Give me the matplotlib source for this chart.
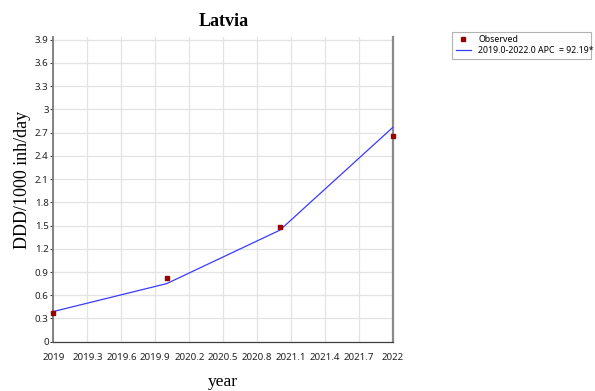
import matplotlib
matplotlib.use("Agg")
import matplotlib.pyplot as plt
import numpy as np

# Observed consumption and joinpoint fit
years = [2019, 2020, 2021, 2022]
observed = [0.37, 0.82, 1.48, 2.65]
fitted = [0.39, 0.75, 1.44, 2.77]
x_ticks = [2019, 2019.3, 2019.6, 2019.9, 2020.2, 2020.5, 2020.8, 2021.1, 2021.4, 2021.7, 2022]
y_ticks = [0, 0.3, 0.6, 0.9, 1.2, 1.5, 1.8, 2.1, 2.4, 2.7, 3, 3.3, 3.6, 3.9]
title = "Latvia"
legend_obs = "Observed"
legend_fit = "2019.0-2022.0 APC  = 92.19*"

fig = plt.figure(figsize=(5.95, 3.91), dpi=100)
ax = fig.add_axes([0.0899, 0.1261, 0.5706, 0.7793])

ax.set_xlim(2019, 2022)
ax.set_ylim(0, 3.935)
ax.set_xticks(x_ticks)
ax.set_xticklabels([f"{v:g}" for v in x_ticks])
ax.set_yticks(y_ticks)
ax.set_yticklabels([f"{v:g}" for v in y_ticks])

ax.grid(True, color="#e3e3e3", lw=0.9)
ax.set_axisbelow(True)

line, = ax.plot(years, fitted, color="#3a3aff", lw=0.9, label=legend_fit, zorder=3)
pts, = ax.plot(years, observed, ls="none", marker="s", ms=3.4, color="#990000",
               label=legend_obs, zorder=4, clip_on=False)

ax.spines["top"].set_visible(False)
ax.spines["left"].set_color("#7a7a7a")
ax.spines["left"].set_linewidth(1.3)
ax.spines["right"].set_color("#8a8a8a")
ax.spines["right"].set_linewidth(1.6)
ax.spines["bottom"].set_color("#404040")
ax.spines["bottom"].set_linewidth(0.9)

small = 7
ax.tick_params(axis="y", length=2.5, width=0.8, color="#404040", pad=1,
               labelsize=small, labelcolor="#222222")
ax.tick_params(axis="x", length=0, pad=8, labelsize=small, labelcolor="#222222")
for lab in ax.get_xticklabels() + ax.get_yticklabels():
    lab.set_family("Noto Sans")

ax.set_title(title, family="Liberation Serif", fontweight="bold", fontsize=13, pad=8)
ax.set_ylabel("DDD/1000 inh/day", family="Liberation Serif", fontsize=13)
ax.yaxis.set_label_coords(-0.066, 0.531)
ax.set_xlabel("year", family="Liberation Serif", fontsize=12.5, labelpad=9)

leg = fig.legend(handles=[pts, line], labels=[legend_obs, legend_fit],
                 loc="upper left",
                 bbox_to_anchor=(452 / 595, 1 - 32 / 391, 139 / 595, 0.0),
                 mode="expand",
                 prop={"family": "Noto Sans", "size": 6.3}, frameon=True,
                 fancybox=False, edgecolor="#a0a0a0", handlelength=1.8,
                 handletextpad=0.8, borderpad=0.4, labelspacing=0.2,
                 borderaxespad=0)
leg.get_frame().set_linewidth(0.8)

fig.savefig("out.png", dpi=100)
